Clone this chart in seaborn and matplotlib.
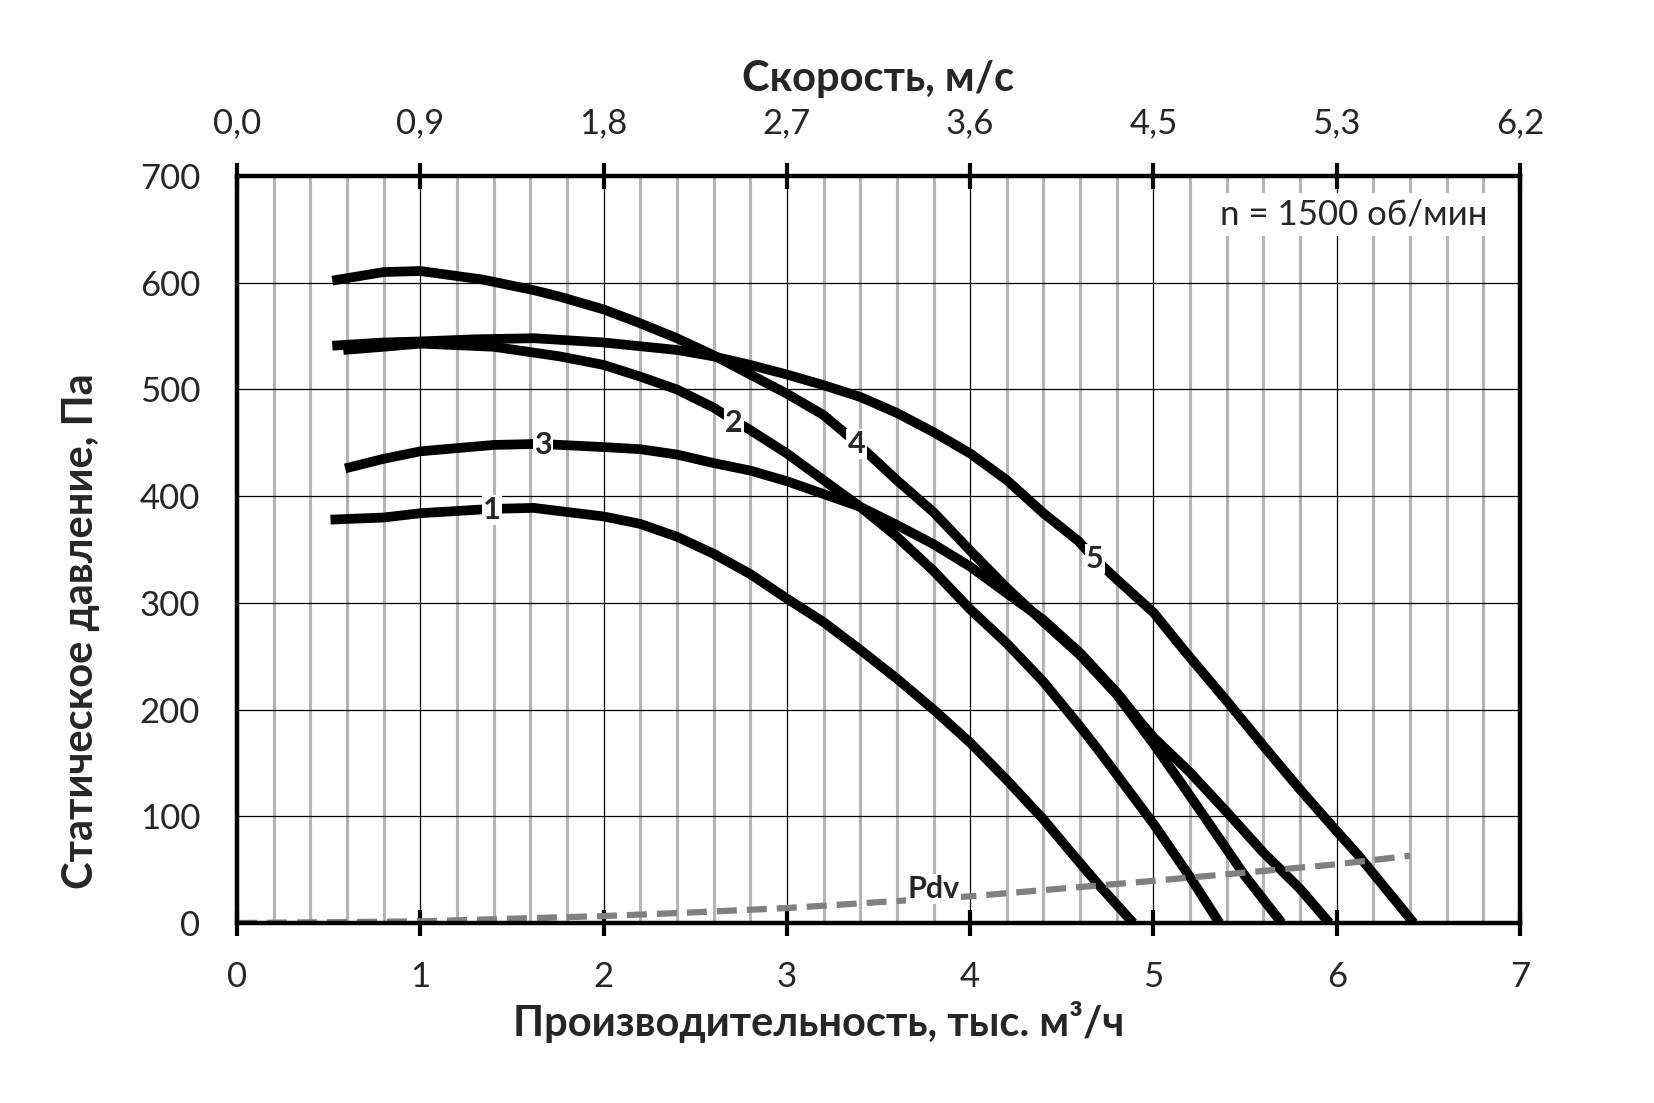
import matplotlib
matplotlib.use("Agg")
import pandas as pd
import matplotlib.pyplot as plt
import seaborn as sns
from matplotlib.ticker import MultipleLocator

# fan curves: flow (thousand m3/h) -> static pressure (Pa)
c1_x = [0.51, 0.8, 1.0, 1.38, 1.62, 1.76, 2.0, 2.2, 2.4, 2.6, 2.8, 3.0, 3.2, 3.4, 3.6, 3.8,
        4.0, 4.2, 4.4, 4.6, 4.7, 4.89]
c1_y = [378, 380, 384, 388, 389, 386, 381, 374, 362, 346, 327, 304, 282, 256, 229, 200,
        169, 134, 97, 56, 36, 0]

c2_x = [0.58, 0.8, 1.0, 1.4, 1.76, 2.0, 2.2, 2.4, 2.6, 2.71, 2.8, 3.0, 3.2, 3.4, 3.6, 3.8,
        4.0, 4.2, 4.4, 4.6, 4.7, 4.8, 5.0, 5.2, 5.36]
c2_y = [537, 540, 543, 540, 531, 523, 512, 500, 483, 471, 462, 440, 415, 390, 362, 330,
        294, 262, 226, 184, 162, 139, 93, 43, 0]

c3_x = [0.59, 0.8, 1.0, 1.4, 1.65, 2.0, 2.2, 2.4, 2.6, 2.8, 3.0, 3.2, 3.4, 3.6, 3.8, 4.0,
        4.2, 4.4, 4.6, 4.8, 4.94, 5.0, 5.2, 5.4, 5.6, 5.8, 5.96]
c3_y = [426, 435, 442, 448, 449, 446, 444, 439, 431, 424, 414, 402, 390, 373, 355, 334,
        309, 284, 253, 216, 186, 174, 141, 104, 66, 32, 0]

c4_x = [0.52, 0.8, 1.0, 1.34, 1.62, 1.76, 2.0, 2.2, 2.4, 2.6, 2.8, 3.0, 3.2, 3.38, 3.6, 3.8,
        4.0, 4.2, 4.4, 4.6, 4.8, 5.0, 5.2, 5.4, 5.5, 5.7]
c4_y = [602, 610, 611, 603, 593, 587, 575, 562, 548, 532, 514, 496, 476, 450, 415, 385,
        349, 314, 282, 251, 214, 168, 119, 69, 44, 0]

c5_x = [0.52, 0.8, 1.0, 1.3, 1.62, 2.0, 2.4, 2.6, 2.8, 3.0, 3.2, 3.4, 3.6, 3.8, 4.0, 4.2,
        4.4, 4.59, 4.67, 4.8, 5.0, 5.16, 5.4, 5.6, 5.8, 6.0, 6.12, 6.42]
c5_y = [541, 544, 545, 547, 548, 544, 537, 531, 523, 514, 504, 493, 478, 460, 440, 415,
        384, 358, 343, 322, 291, 257, 208, 166, 125, 86, 63, 0]

# dynamic pressure line
pdv_x = [0, 1, 2, 2.5, 3, 4, 5, 6, 6.4]
pdv_y = [0, 1.5, 6.5, 10, 14, 25, 39.5, 55, 63]

# where the curve numbers sit
label_names = ["1", "2", "3", "4", "5"]
label_x = [1.39, 2.71, 1.67, 3.38, 4.68]
label_y = [387, 469, 448, 449, 341]

speed_labels = ["0,0", "0,9", "1,8", "2,7", "3,6", "4,5", "5,3", "6,2"]

curves = pd.concat([
    pd.DataFrame({"flow": xs, "pressure": ys, "curve": name})
    for name, xs, ys in [("1", c1_x, c1_y), ("2", c2_x, c2_y), ("3", c3_x, c3_y),
                         ("4", c4_x, c4_y), ("5", c5_x, c5_y)]
])
pdv = pd.DataFrame({"flow": pdv_x, "pressure": pdv_y})

sns.set_style("white")
plt.rcParams["font.family"] = ["Lato", "DejaVu Sans"]

fig = plt.figure(figsize=(16.54, 11.03), dpi=100)
ax = fig.add_axes([0.1433, 0.1632, 0.7757, 0.6772])

ax.set_xlim(0, 7)
ax.set_ylim(0, 700)

# grid: grey minor verticals, thin black majors
ax.xaxis.set_major_locator(MultipleLocator(1))
ax.xaxis.set_minor_locator(MultipleLocator(0.2))
ax.yaxis.set_major_locator(MultipleLocator(100))
ax.grid(which="minor", axis="x", color="#b5b5b5", linewidth=2.2)
ax.grid(which="major", axis="both", color="black", linewidth=0.9)
ax.set_axisbelow(True)

sns.lineplot(data=curves, x="flow", y="pressure", hue="curve",
             palette={n: "black" for n in label_names}, sort=False,
             estimator=None, linewidth=7, legend=False, ax=ax,
             solid_capstyle="butt", solid_joinstyle="round")
sns.lineplot(data=pdv, x="flow", y="pressure", color="#808080", sort=False,
             estimator=None, linewidth=4.5, ax=ax)
ax.lines[-1].set_dashes((3.2, 1.6))

for name, lx, ly in zip(label_names, label_x, label_y):
    ax.text(lx, ly, name, ha="center", va="center", fontsize=22, fontweight="bold",
            bbox=dict(facecolor="white", edgecolor="none", pad=0.8))
ax.text(3.8, 32, "Pdv", ha="center", va="center", fontsize=22, fontweight="bold",
        bbox=dict(facecolor="white", edgecolor="none", pad=0.8))
ax.text(6.82, 664, "n = 1500 об/мин", ha="right", va="center", fontsize=25,
        bbox=dict(facecolor="white", edgecolor="none", pad=4))

for side in ["left", "right", "top", "bottom"]:
    ax.spines[side].set_linewidth(3.2)
    ax.spines[side].set_color("black")

ax.tick_params(axis="both", which="major", direction="inout", length=19, width=3,
               labelsize=25, color="black")
ax.tick_params(axis="x", which="major", pad=18)
ax.tick_params(axis="y", which="major", pad=17)
ax.tick_params(axis="x", which="minor", length=0)
ax.set_xlabel("Производительность, тыс. м³/ч", fontsize=30, fontweight="bold", labelpad=0)
ax.set_ylabel("Статическое давление, Па", fontsize=30, fontweight="bold", labelpad=14)
# the titles in the original sit a little off the axis centre
ax.xaxis.set_label_coords(0.453, -0.105)
ax.yaxis.set_label_coords(-0.107, 0.39)

# second scale on top: air speed
ax_top = ax.twiny()
ax_top.set_xlim(0, 7)
ax_top.set_xticks(range(8))
ax_top.set_xticklabels(speed_labels)
ax_top.tick_params(axis="x", which="major", direction="inout", length=19, width=3,
                   labelsize=25, color="black", pad=17)
for side in ax_top.spines:
    ax_top.spines[side].set_visible(False)
ax_top.grid(False)
ax_top.set_xlabel("Скорость, м/с", fontsize=30, fontweight="bold", labelpad=12)

fig.savefig("out.png", dpi=100, facecolor="white")
